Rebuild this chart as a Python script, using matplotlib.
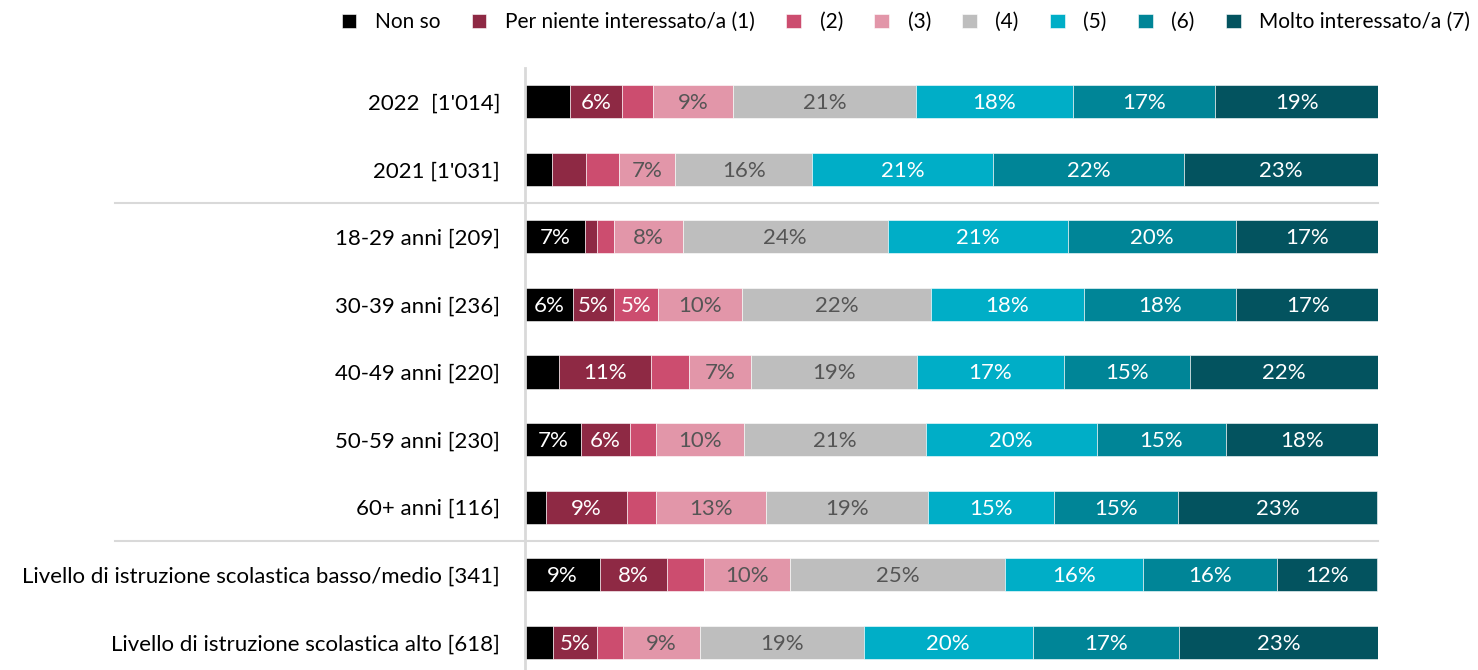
import matplotlib.pyplot as plt
import numpy as np

plt.rcParams['font.family'] = ['Lato', 'DejaVu Sans']

groups = ["2022  [1'014]", "2021 [1'031]", "18-29 anni [209]", "30-39 anni [236]",
          "40-49 anni [220]", "50-59 anni [230]", "60+ anni [116]",
          "Livello di istruzione scolastica basso/medio [341]",
          "Livello di istruzione scolastica alto [618]"]
series = ["Non so", "Per niente interessato/a (1)", "(2)", "(3)", "(4)", "(5)", "(6)",
          "Molto interessato/a (7)"]

non_so = [5.3, 3.2, 7.0, 5.6, 4.0, 6.6, 2.5, 8.8, 3.3]
val_1 = [6.1, 3.9, 1.4, 4.8, 10.8, 5.7, 9.4, 7.8, 5.1]
val_2 = [3.6, 3.9, 2.0, 5.2, 4.4, 3.0, 3.4, 4.4, 3.1]
val_3 = [9.4, 6.6, 8.1, 9.8, 7.3, 10.4, 13.0, 10.1, 9.0]
val_4 = [21.4, 16.1, 24.0, 22.2, 19.4, 21.3, 19.0, 25.2, 19.2]
val_5 = [18.4, 21.2, 21.1, 17.9, 17.3, 20.0, 14.7, 16.2, 19.8]
val_6 = [16.7, 22.3, 19.7, 17.8, 14.8, 15.2, 14.6, 15.7, 17.2]
val_7 = [19.1, 22.9, 16.7, 17.0, 22.0, 17.9, 23.3, 11.7, 23.3]

colors = ['#000000', '#8e2944', '#cc4d6f', '#e296a9', '#bebebe', '#00aec7', '#008597', '#03535f']
text_colors = ['white', 'white', 'white', '#555555', '#555555', 'white', 'white', 'white']

data = np.array([non_so, val_1, val_2, val_3, val_4, val_5, val_6, val_7])
# label not shown in the original for this one
skip = {(0, 0)}

fig = plt.figure(figsize=(14.78, 6.70), dpi=100)
ax = fig.add_axes([525/1478, 0, 853/1478, 1 - 68/670])

y = np.arange(len(groups))
left = np.zeros(len(groups))
for i, name in enumerate(series):
    ax.barh(y, data[i], left=left, height=0.49, color=colors[i], label=name,
            edgecolor='white', linewidth=0.4)
    for j in range(len(groups)):
        v = data[i][j]
        if v >= 4.5 and (i, j) not in skip:
            ax.text(left[j] + v/2, y[j] + 0.02, '%.0f%%' % v, ha='center', va='center',
                    color=text_colors[i], fontsize=16)
    left += data[i]

ax.set_xlim(0, 100)
ax.set_ylim(8.41, -0.5)
ax.set_yticks(y)
ax.set_yticklabels(groups, fontsize=16)
ax.tick_params(axis='y', length=0, pad=18)
ax.set_xticks([])
for s in ['top', 'right', 'bottom']:
    ax.spines[s].set_visible(False)
ax.spines['left'].set_color('#d9d9d9')
ax.spines['left'].set_linewidth(2)

# separators between blocks
for sep in [1.5, 6.5]:
    ax.plot([-48.1, 100], [sep, sep], color='#d9d9d9', linewidth=1.5, clip_on=False)

fig.legend(loc='center', bbox_to_anchor=(0.613, 0.967), ncol=8, frameon=False,
           fontsize=15, handlelength=0.7, handleheight=0.7, handletextpad=0.9,
           columnspacing=1.5)

plt.savefig('out.png', dpi=100)
